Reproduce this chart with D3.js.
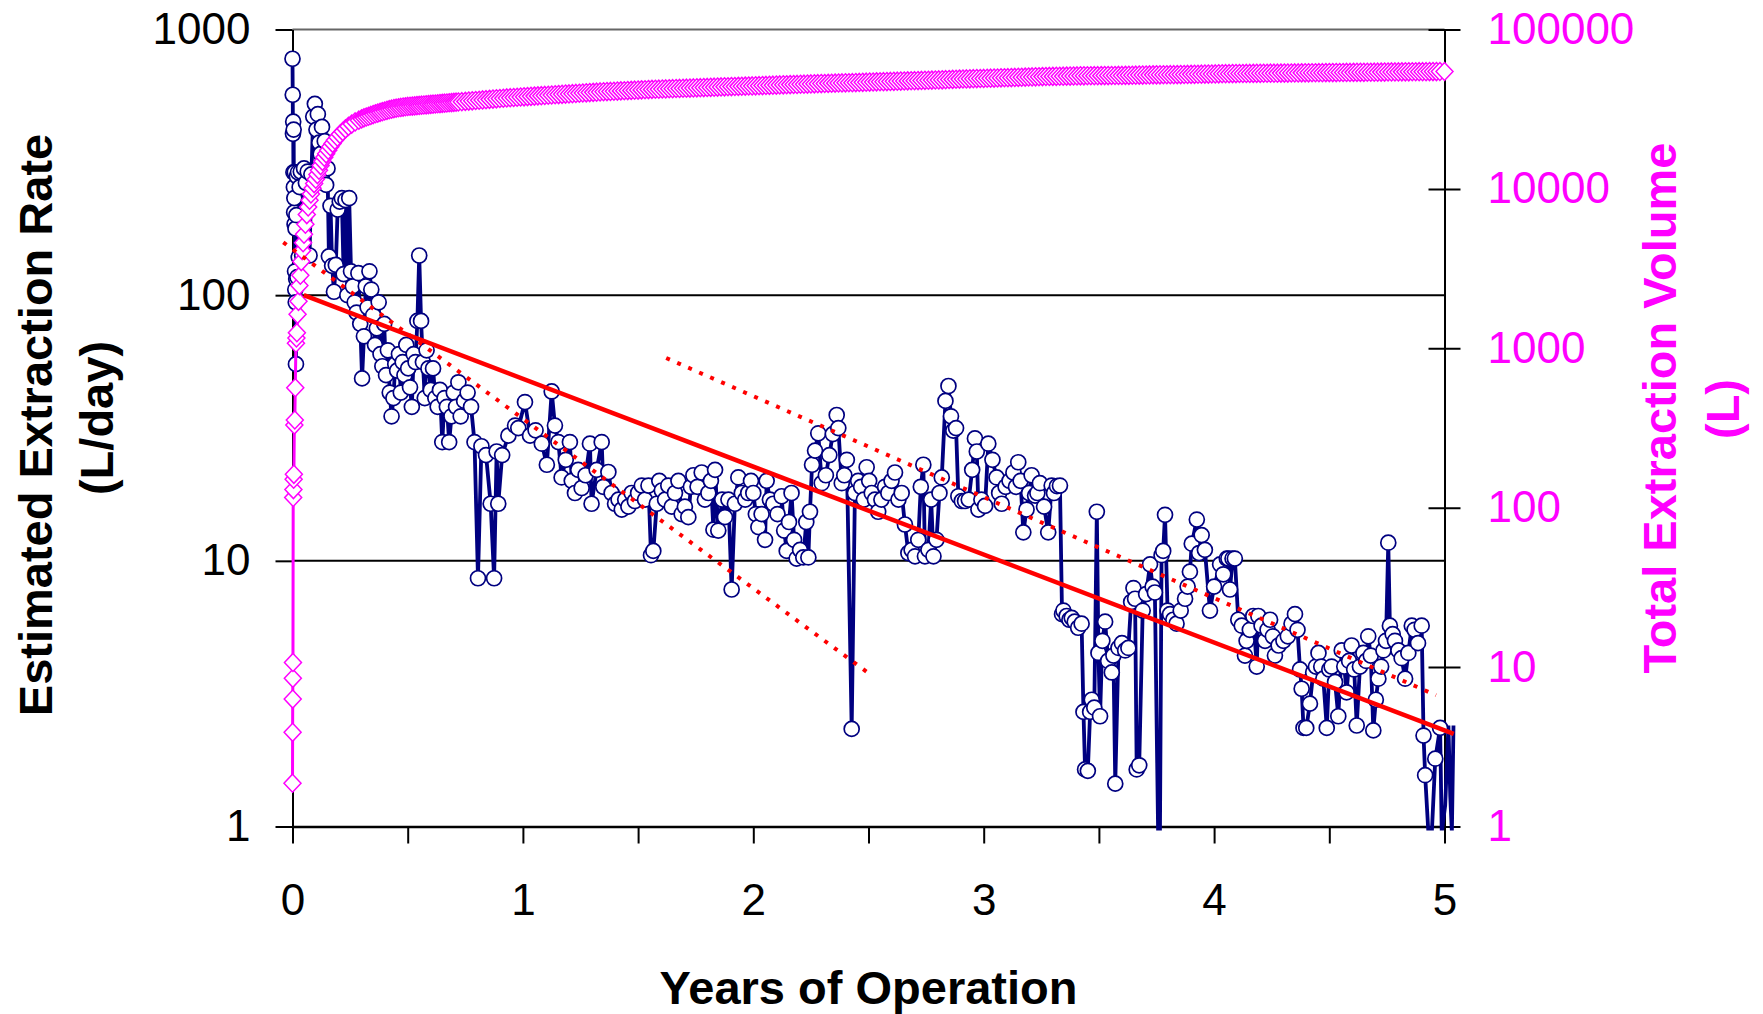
<!DOCTYPE html>
<html>
<head>
<meta charset="utf-8">
<script src="https://cdnjs.cloudflare.com/ajax/libs/d3/7.8.5/d3.min.js"></script>
<style>
  body { margin: 0; background: #fff; }
  svg { display: block; font-family: "Liberation Sans", Arial, sans-serif; }
</style>
</head>
<body>
<div id="chart"></div>
<script>
// [years, L/day]
var rateData = [
  [0.000,776],[0.001,568],[0.002,405],[0.003,450],[0.004,290],[0.005,420],[0.006,255],[0.007,205],[0.008,232],[0.009,185],
  [0.010,290],[0.011,123],[0.012,105],[0.013,178],[0.014,94],[0.015,55],[0.016,115],[0.017,200],[0.019,280],[0.021,117],
  [0.024,290],[0.027,139],[0.031,255],[0.036,292],[0.042,141],[0.050,300],[0.058,265],[0.066,292],[0.074,141],[0.082,285],
  [0.090,470],[0.097,525],[0.104,420],[0.110,480],[0.116,375],[0.122,340],[0.128,430],[0.134,292],[0.140,380],[0.146,260],
  [0.152,300],[0.158,140],[0.165,217],[0.172,129],[0.180,103],[0.188,130],[0.196,210],[0.205,225],[0.214,232],[0.222,120],
  [0.230,228],[0.238,100],[0.246,232],[0.254,123],[0.262,108],[0.270,94],[0.278,86],[0.286,121],[0.294,78],[0.302,48.6],
  [0.310,70],[0.318,108],[0.326,90],[0.334,123],[0.342,105],[0.350,84],[0.358,65],[0.366,75],[0.374,94],[0.382,60],
  [0.390,54],[0.398,78],[0.406,50],[0.414,62],[0.422,43],[0.430,35],[0.438,41],[0.446,55],[0.454,52],[0.462,60],
  [0.470,43],[0.478,56],[0.486,50],[0.494,65],[0.502,53],[0.510,45],[0.518,38],[0.526,60],[0.534,56],[0.542,80],
  [0.550,141],[0.558,80],[0.566,56],[0.574,41],[0.582,62],[0.590,53],[0.600,44],[0.610,53],[0.620,41],[0.630,38],
  [0.640,44],[0.650,28],[0.660,41],[0.670,38],[0.680,28],[0.690,35],[0.700,43],[0.710,38],[0.720,47],[0.730,35],
  [0.745,40],[0.760,43],[0.775,38],[0.790,28],[0.805,8.6],[0.820,27],[0.840,25],[0.860,16.4],[0.875,8.6],[0.886,25.8],
  [0.893,16.4],[0.910,25],[0.937,29.6],[0.966,32.3],[0.980,31.6],[1.009,39.6],[1.031,29.6],[1.055,31],[1.082,27.6],[1.104,23],
  [1.125,43.4],[1.139,32.3],[1.154,28],[1.168,20.6],[1.186,24],[1.204,28],[1.212,20],[1.226,18],[1.240,22],[1.255,18.8],
  [1.272,21],[1.291,27.6],[1.298,16.4],[1.320,22],[1.342,28],[1.349,19],[1.371,21.6],[1.385,18],[1.400,16.4],[1.415,17],
  [1.429,15.6],[1.444,17],[1.458,16],[1.472,18],[1.486,16.8],[1.500,18],[1.516,19.2],[1.530,17],[1.545,19.2],[1.556,10.5],
  [1.566,10.9],[1.581,16.4],[1.592,20],[1.603,18.4],[1.617,17],[1.631,19.2],[1.646,16],[1.660,18],[1.675,20],[1.689,15],
  [1.703,16],[1.718,14.6],[1.729,19],[1.740,21],[1.758,19],[1.776,21.5],[1.790,17],[1.805,18],[1.816,20],[1.827,13.1],
  [1.834,22],[1.848,13],[1.865,17],[1.877,14.6],[1.892,17],[1.906,7.8],[1.920,16.4],[1.935,20.6],[1.950,18],[1.965,17],
  [1.978,18],[1.990,20],[2.000,18],[2.011,15],[2.022,13.4],[2.036,15],[2.051,12],[2.058,20],[2.072,17],[2.087,16.4],
  [2.105,15],[2.123,17.5],[2.134,13],[2.145,10.9],[2.155,14],[2.166,18],[2.177,12],[2.188,10.2],[2.203,11],[2.217,10.3],
  [2.230,14],[2.239,10.3],[2.246,15.3],[2.255,23],[2.268,26],[2.282,30.2],[2.297,19.6],[2.315,21],[2.330,25],[2.345,30],
  [2.362,35.4],[2.369,31.6],[2.384,19.6],[2.395,21],[2.406,24],[2.427,2.33],[2.441,18],[2.455,20],[2.468,19],[2.480,17],
  [2.492,22.5],[2.503,20],[2.514,18],[2.528,17],[2.542,15.3],[2.556,17],[2.572,19],[2.586,18],[2.600,20],[2.615,21.5],
  [2.630,17],[2.644,18],[2.658,13.7],[2.673,10.7],[2.687,11],[2.702,10.4],[2.716,12],[2.727,19],[2.738,23],[2.745,10.4],
  [2.760,11],[2.772,17],[2.782,10.4],[2.795,12],[2.808,18],[2.818,20.6],[2.834,40],[2.847,45.5],[2.858,35],[2.868,30.9],
  [2.880,31.6],[2.890,17.5],[2.905,16.8],[2.919,16.8],[2.935,17],[2.950,22],[2.962,28.9],[2.970,25.8],[2.977,15.6],[2.990,17],
  [3.006,16.1],[3.020,27.6],[3.038,24],[3.056,20.6],[3.067,18],[3.078,16.4],[3.095,19],[3.112,20],[3.129,21.5],[3.140,19],
  [3.150,23.5],[3.160,20],[3.172,12.8],[3.186,15.6],[3.197,18],[3.208,21],[3.223,17.6],[3.233,18],[3.244,19.6],[3.262,16],
  [3.280,12.8],[3.295,19.2],[3.305,18],[3.318,19.1],[3.331,19.2],[3.340,6.3],[3.346,6.5],[3.360,6.2],[3.372,6.0],[3.382,6.1],
  [3.395,5.9],[3.410,5.6],[3.425,5.8],[3.433,2.7],[3.440,1.64],[3.452,1.62],[3.462,2.7],[3.469,3.0],[3.480,2.8],[3.491,15.3],
  [3.498,4.5],[3.505,2.6],[3.515,5.0],[3.527,5.9],[3.540,4.2],[3.556,3.8],[3.563,4.4],[3.571,1.45],[3.585,4.7],[3.600,4.9],
  [3.614,4.6],[3.628,4.7],[3.640,7.0],[3.650,7.9],[3.657,7.2],[3.664,1.64],[3.675,1.70],[3.690,6.5],[3.705,7.5],[3.722,9.7],
  [3.733,8.0],[3.743,7.6],[3.757,0.95],[3.765,0.95],[3.772,10.5],[3.779,10.9],[3.787,14.9],[3.798,6.5],[3.809,6.3],[3.823,6.0],
  [3.837,5.8],[3.855,6.5],[3.874,7.2],[3.885,8],[3.895,9.1],[3.903,11.6],[3.925,14.3],[3.935,10.7],[3.946,12.5],[3.960,11],
  [3.982,6.5],[4.000,8],[4.026,9.7],[4.040,8.9],[4.055,10.2],[4.062,10.2],[4.069,7.8],[4.080,10.2],[4.090,10.2],[4.105,6],
  [4.120,5.7],[4.134,4.4],[4.141,5.0],[4.155,5.5],[4.170,6.2],[4.185,4.0],[4.192,6.2],[4.206,5.7],[4.221,5.0],[4.232,5.5],
  [4.243,6.0],[4.255,5.2],[4.264,4.4],[4.280,4.8],[4.301,5.0],[4.320,5.2],[4.336,5.8],[4.351,6.3],[4.362,5.5],[4.373,3.9],
  [4.380,3.3],[4.388,2.35],[4.400,2.35],[4.416,2.9],[4.430,3.8],[4.442,4.0],[4.453,4.5],[4.465,4.0],[4.474,3.6],[4.489,2.35],
  [4.500,3.9],[4.510,4.0],[4.525,3.5],[4.539,2.6],[4.554,4.6],[4.565,4.0],[4.575,3.2],[4.586,4.2],[4.597,4.8],[4.608,3.9],
  [4.619,2.4],[4.633,4.0],[4.648,4.5],[4.660,4.2],[4.669,5.2],[4.680,4.4],[4.691,2.3],[4.702,3.0],[4.713,3.6],[4.725,4.0],
  [4.735,4.6],[4.746,5.0],[4.756,11.7],[4.763,5.7],[4.775,5.3],[4.785,5.0],[4.800,4.6],[4.814,4.3],[4.829,3.6],[4.843,4.5],
  [4.858,5.7],[4.870,5.5],[4.885,4.9],[4.901,5.7],[4.909,2.2],[4.916,1.56],[4.930,0.95],[4.945,0.95],[4.960,1.8],[4.981,2.35],
  [4.988,0.95],[5.003,1.2],[5.017,2.4],[5.025,1.3],[5.032,0.95],[5.039,2.4]
];

// [years, total litres]
var volumeData = [
  [0.000,1.87],[0.0005,3.9],[0.001,6.3],[0.0015,8.5],[0.002,10.7],[0.003,116],[0.004,130],[0.005,151],[0.006,162],[0.008,330],
  [0.010,355],[0.012,566],[0.015,1077],[0.017,1160],[0.019,1253],[0.022,1633],[0.026,1972],[0.030,2474],[0.034,2877],[0.038,3500],
  [0.042,4100],[0.046,4600],[0.050,5200],[0.056,6000],[0.062,6900],[0.068,7700],[0.074,8500],[0.080,9300],[0.087,10100],[0.094,10800],
  [0.101,11500],[0.108,12300],[0.115,13100],[0.122,14000],[0.130,14900],[0.138,15800],[0.146,16600],[0.155,17500],[0.164,18400],[0.174,19300],
  [0.184,20200],[0.195,21100],[0.206,22000],[0.218,22900],[0.230,23800],[0.243,24700],[0.257,25500],[0.272,26300],[0.288,27000],[0.300,27500],
  [0.310,27900],[0.320,28250],[0.330,28550],[0.340,28900],[0.350,29250],[0.360,29600],[0.370,29900],[0.380,30200],[0.390,30500],[0.400,30800],
  [0.410,31100],[0.420,31400],[0.430,31650],[0.440,31900],[0.450,32100],[0.460,32300],[0.470,32450],[0.480,32600],[0.490,32750],[0.500,32900],
  [0.510,33000],[0.520,33100],[0.530,33200],[0.540,33300],[0.550,33400],[0.560,33500],[0.570,33600],[0.580,33700],[0.590,33800],[0.600,33900],
  [0.610,34000],[0.620,34100],[0.630,34200],[0.640,34300],[0.650,34400],[0.660,34500],[0.670,34600],[0.680,34700],[0.690,34800],[0.700,34900],
  [0.710,35000],[0.720,35100],[0.735,35250],[0.750,35400],[0.765,35550],[0.780,35700],[0.795,35850],[0.810,36000],[0.825,36150],[0.840,36300],
  [0.855,36450],[0.870,36600],[0.885,36750],[0.900,36900],[0.915,37050],[0.930,37200],[0.945,37330],[0.960,37450],[0.975,37580],[0.990,37700],
  [1.005,37830],[1.020,37950],[1.035,38080],[1.050,38200],[1.065,38330],[1.080,38450],[1.095,38580],[1.110,38700],[1.125,38830],[1.140,38950],
  [1.155,39080],[1.170,39200],[1.185,39330],[1.200,39450],[1.215,39580],[1.230,39700],[1.245,39830],[1.260,39950],[1.275,40080],[1.290,40200],
  [1.305,40330],[1.320,40450],[1.335,40580],[1.350,40700],[1.365,40800],[1.380,40900],[1.395,41000],[1.410,41100],[1.425,41200],[1.440,41300],
  [1.455,41400],[1.470,41500],[1.485,41600],[1.500,41700],[1.515,41800],[1.530,41900],[1.545,42000],[1.560,42100],[1.575,42180],[1.590,42250],
  [1.605,42330],[1.620,42400],[1.635,42480],[1.650,42550],[1.665,42630],[1.680,42700],[1.695,42780],[1.710,42850],[1.725,42930],[1.740,43000],
  [1.755,43080],[1.770,43150],[1.785,43230],[1.800,43300],[1.815,43380],[1.830,43450],[1.845,43530],[1.860,43600],[1.875,43680],[1.890,43750],
  [1.905,43830],[1.920,43900],[1.935,43980],[1.950,44050],[1.965,44130],[1.980,44200],[1.995,44280],[2.010,44350],[2.025,44430],[2.040,44500],
  [2.055,44580],[2.070,44650],[2.085,44730],[2.100,44800],[2.115,44880],[2.130,44950],[2.145,45030],[2.160,45100],[2.175,45180],[2.190,45250],
  [2.205,45330],[2.220,45400],[2.235,45480],[2.250,45550],[2.265,45630],[2.280,45700],[2.295,45780],[2.310,45850],[2.325,45930],[2.340,46000],
  [2.355,46080],[2.370,46150],[2.385,46230],[2.400,46300],[2.415,46350],[2.430,46400],[2.445,46480],[2.460,46550],[2.475,46630],[2.490,46700],
  [2.505,46780],[2.520,46850],[2.535,46930],[2.550,47000],[2.565,47080],[2.580,47150],[2.595,47230],[2.610,47300],[2.625,47380],[2.640,47450],
  [2.655,47530],[2.670,47600],[2.685,47680],[2.700,47750],[2.715,47830],[2.730,47900],[2.745,47980],[2.760,48050],[2.775,48130],[2.790,48200],
  [2.805,48280],[2.820,48350],[2.835,48450],[2.850,48550],[2.865,48650],[2.880,48750],[2.895,48830],[2.910,48900],[2.925,48980],[2.940,49050],
  [2.955,49130],[2.970,49200],[2.985,49280],[3.000,49350],[3.015,49430],[3.030,49500],[3.045,49580],[3.060,49650],[3.075,49730],[3.090,49800],
  [3.105,49880],[3.120,49950],[3.135,50030],[3.150,50100],[3.165,50180],[3.180,50250],[3.195,50330],[3.210,50400],[3.225,50480],[3.240,50550],
  [3.255,50630],[3.270,50700],[3.285,50750],[3.300,50800],[3.315,50850],[3.330,50900],[3.345,50950],[3.360,51000],[3.375,51050],[3.390,51100],
  [3.405,51150],[3.420,51200],[3.435,51230],[3.450,51250],[3.465,51280],[3.480,51300],[3.495,51330],[3.510,51350],[3.525,51380],[3.540,51400],
  [3.555,51430],[3.570,51450],[3.585,51480],[3.600,51500],[3.615,51550],[3.630,51600],[3.645,51650],[3.660,51700],[3.675,51750],[3.690,51800],
  [3.705,51850],[3.720,51900],[3.735,51930],[3.750,51950],[3.765,51980],[3.780,52000],[3.795,52030],[3.810,52050],[3.825,52080],[3.840,52100],
  [3.855,52150],[3.870,52200],[3.885,52250],[3.900,52300],[3.915,52350],[3.930,52400],[3.945,52450],[3.960,52500],[3.975,52550],[3.990,52600],
  [4.005,52650],[4.020,52700],[4.035,52750],[4.050,52800],[4.065,52850],[4.080,52900],[4.095,52930],[4.110,52950],[4.125,52980],[4.140,53000],
  [4.155,53030],[4.170,53050],[4.185,53080],[4.200,53100],[4.215,53130],[4.230,53150],[4.245,53180],[4.260,53200],[4.275,53230],[4.290,53250],
  [4.305,53280],[4.320,53300],[4.335,53350],[4.350,53400],[4.365,53430],[4.380,53450],[4.395,53480],[4.410,53500],[4.425,53530],[4.440,53550],
  [4.455,53580],[4.470,53600],[4.485,53630],[4.500,53650],[4.515,53680],[4.530,53700],[4.545,53730],[4.560,53750],[4.575,53780],[4.590,53800],
  [4.605,53830],[4.620,53850],[4.635,53880],[4.650,53900],[4.665,53930],[4.680,53950],[4.695,53980],[4.710,54000],[4.725,54030],[4.740,54050],
  [4.755,54100],[4.770,54150],[4.785,54180],[4.800,54200],[4.815,54230],[4.830,54250],[4.845,54280],[4.860,54300],[4.875,54330],[4.890,54350],
  [4.905,54380],[4.920,54400],[4.935,54430],[4.950,54450],[4.965,54480],[4.980,54500],[5.000,54500]
];

// fitted decline and the two dotted envelopes, [years, L/day] end points
var trendLine = [[0.049,100],[5.04,2.23]];
var earlyDecline = [[-0.04,158],[2.516,3.69]];
var lateDecline = [[1.622,58],[4.963,3.12]];

var xTicks = [0,0.5,1,1.5,2,2.5,3,3.5,4,4.5,5];
var xLabels = [0,1,2,3,4,5];
var rateTicks = [1,10,100,1000];
var volumeTicks = [1,10,100,1000,10000,100000];

var width = 1763, height = 1014;
var plotLeft = 292.5, plotRight = 1444.5, plotTop = 29.5, plotBottom = 826.5;

var svg = d3.select("#chart").append("svg")
    .attr("width", width)
    .attr("height", height);

var x = d3.scaleLinear().domain([0, 5]).range([plotLeft, plotRight]);
var yRate = d3.scaleLog().domain([1, 1000]).range([plotBottom, plotTop]);
var yVol = d3.scaleLog().domain([1, 100000]).range([plotBottom, plotTop]);

// gridlines
svg.append("g")
    .selectAll("line")
    .data(rateTicks.slice(1))
    .enter().append("line")
    .attr("x1", plotLeft).attr("x2", plotRight)
    .attr("y1", function (d) { return yRate(d); })
    .attr("y2", function (d) { return yRate(d); })
    .attr("stroke", function (d) { return d == 1000 ? "#666" : "#000"; })
    .attr("stroke-width", 2);

// left axis
var yAxisL = d3.axisLeft(yRate).tickValues(rateTicks).tickSize(17).tickPadding(25)
    .tickSizeOuter(0)
    .tickFormat(d3.format("d"));
var gl = svg.append("g").attr("transform", "translate(" + plotLeft + ",0)").call(yAxisL);
gl.select(".domain").attr("stroke-width", 2);
gl.selectAll(".tick line").attr("stroke-width", 2);
gl.selectAll(".tick text").attr("font-size", 44).attr("fill", "#000")
    .attr("font-family", "Liberation Sans, Arial, sans-serif");

// bottom axis
var xAxis = d3.axisBottom(x).tickValues(xTicks).tickSize(17).tickPadding(40)
    .tickSizeOuter(0)
    .tickFormat(function (d) { return xLabels.indexOf(d) >= 0 ? d : ""; });
var gx = svg.append("g").attr("transform", "translate(0," + plotBottom + ")").call(xAxis);
gx.select(".domain").attr("stroke-width", 2.5);
gx.selectAll(".tick line").attr("stroke-width", 2);
gx.selectAll(".tick text").attr("font-size", 44).attr("fill", "#000")
    .attr("font-family", "Liberation Sans, Arial, sans-serif");

// right axis, ticks cross the line
var yAxisR = d3.axisRight(yVol).tickValues(volumeTicks).tickSize(16).tickPadding(27)
    .tickSizeOuter(0)
    .tickFormat(d3.format("d"));
var gr = svg.append("g").attr("transform", "translate(" + plotRight + ",0)").call(yAxisR);
gr.select(".domain").attr("stroke-width", 2);
gr.selectAll(".tick line").attr("x1", -16).attr("stroke-width", 2);
gr.selectAll(".tick text").attr("font-size", 44).attr("fill", "#ff00ff")
    .attr("font-family", "Liberation Sans, Arial, sans-serif");

svg.append("clipPath").attr("id", "plotClip")
  .append("rect")
    .attr("x", 0).attr("y", 0)
    .attr("width", plotRight + 30).attr("height", plotBottom + 4);

var rateLine = d3.line()
    .x(function (d) { return x(d[0]); })
    .y(function (d) { return yRate(d[1]); });

var volLine = d3.line()
    .x(function (d) { return x(d[0]); })
    .y(function (d) { return yVol(d[1]); });

// extraction rate
svg.append("path")
    .datum(rateData)
    .attr("clip-path", "url(#plotClip)")
    .attr("d", rateLine)
    .attr("fill", "none")
    .attr("stroke", "#000080")
    .attr("stroke-width", 3.8)
    .attr("stroke-linejoin", "miter");

// markers only inside the plot area
svg.append("g")
    .selectAll("circle")
    .data(rateData.filter(function (d) { return d[1] >= 1 && d[0] <= 5; }))
    .enter().append("circle")
    .attr("cx", function (d) { return x(d[0]); })
    .attr("cy", function (d) { return yRate(d[1]); })
    .attr("r", 7.5)
    .attr("fill", "#fff")
    .attr("stroke", "#000080")
    .attr("stroke-width", 1.7);

// total volume
svg.append("path")
    .datum(volumeData)
    .attr("d", volLine)
    .attr("fill", "none")
    .attr("stroke", "#ff00ff")
    .attr("stroke-width", 3);

svg.append("g")
    .selectAll("path")
    .data(volumeData)
    .enter().append("path")
    .attr("transform", function (d) { return "translate(" + x(d[0]) + "," + yVol(d[1]) + ")"; })
    .attr("d", "M0,-9L8.5,0L0,9L-8.5,0Z")
    .attr("fill", "#fff")
    .attr("stroke", "#ff00ff")
    .attr("stroke-width", 1.5);

// trend lines
svg.append("path")
    .datum(trendLine)
    .attr("d", rateLine)
    .attr("stroke", "#ff0000")
    .attr("stroke-width", 4.5);

[earlyDecline, lateDecline].forEach(function (seg) {
    svg.append("path")
        .datum(seg)
        .attr("d", rateLine)
        .attr("stroke", "#ff0000")
        .attr("stroke-width", 4)
        .attr("stroke-dasharray", "4 8");
});

// axis titles
svg.append("text")
    .attr("x", (plotLeft + plotRight) / 2)
    .attr("y", 1004)
    .attr("text-anchor", "middle")
    .attr("font-size", 47)
    .attr("font-weight", "bold")
    .text("Years of Operation");

var leftTitle = [["Estimated Extraction Rate", 52, 425], ["(L/day)", 113, 418]];
leftTitle.forEach(function (t) {
    svg.append("text")
        .attr("transform", "translate(" + t[1] + "," + t[2] + ") rotate(-90)")
        .attr("text-anchor", "middle")
        .attr("font-size", 47)
        .attr("font-weight", "bold")
        .text(t[0]);
});

var rightTitle = [["Total Extraction Volume", 1676, 408], ["(L)", 1739, 409]];
rightTitle.forEach(function (t) {
    svg.append("text")
        .attr("transform", "translate(" + t[1] + "," + t[2] + ") rotate(-90)")
        .attr("text-anchor", "middle")
        .attr("font-size", 47)
        .attr("font-weight", "bold")
        .attr("fill", "#ff00ff")
        .text(t[0]);
});
</script>
</body>
</html>
